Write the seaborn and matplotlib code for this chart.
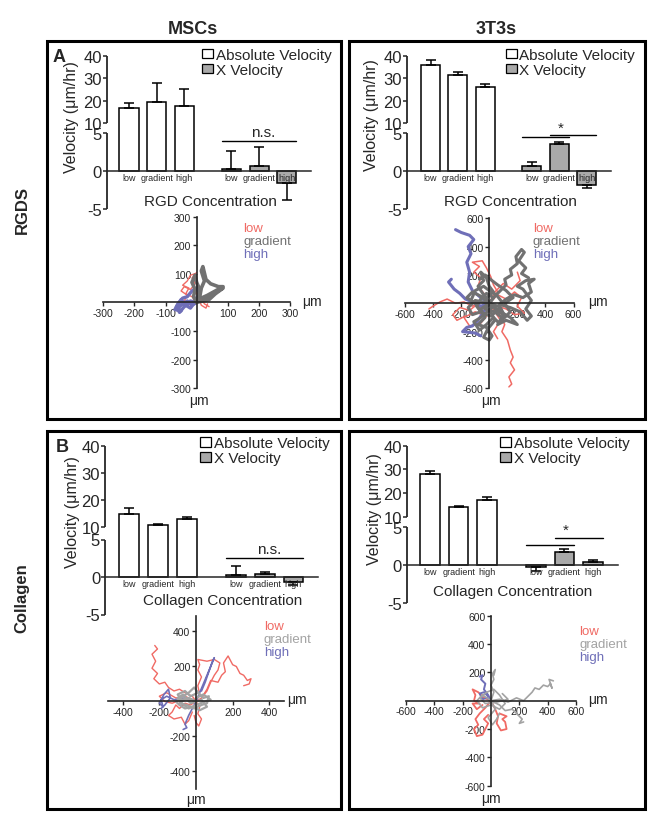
import numpy as np
import pandas as pd
import seaborn as sns
import matplotlib.pyplot as plt
from matplotlib.patches import Rectangle, Patch

sns.set_style("ticks")
plt.rcParams['font.family'] = ['Liberation Sans', 'DejaVu Sans']

# ---------------- data ----------------
conditions = ["low", "gradient", "high"]

msc_rgd_abs = [17.0, 19.5, 17.5]
msc_rgd_abs_err = [2.0, 8.3, 7.8]
msc_rgd_x = [0.3, 0.7, -1.5]
msc_rgd_x_err = [2.4, 2.5, 2.3]

t3_rgd_abs = [35.9, 31.7, 26.0]
t3_rgd_abs_err = [2.3, 1.1, 1.3]
t3_rgd_x = [0.75, 3.6, -1.8]
t3_rgd_x_err = [0.45, 0.25, 0.4]

msc_col_abs = [14.8, 10.6, 13.1]
msc_col_abs_err = [2.2, 0.6, 0.7]
msc_col_x = [0.25, 0.4, -0.6]
msc_col_x_err = [1.2, 0.3, 0.4]

t3_col_abs = [28.1, 14.1, 17.2]
t3_col_abs_err = [1.4, 0.6, 1.1]
t3_col_x = [-0.2, 1.7, 0.45]
t3_col_x_err = [0.55, 0.4, 0.25]

# cell tracks (um), one list of (x, y) points per cell
msc_rgd_low = [
    [(0, 0), (-15, 20), (-35, 30), (-25, 50), (-45, 60), (-30, 75), (-20, 95), (-5, 100), (-10, 80), (5, 60), (-10, 40), (10, 20), (25, -5), (40, -15)],
    [(0, 0), (-20, -10), (-40, 5), (-30, 25), (-50, 40), (-40, 55), (-20, 45), (-5, 65), (-15, 85), (0, 105)],
    [(0, 0), (15, 10), (10, 35), (-5, 45), (15, -10), (30, -20), (35, -5)],
]
msc_rgd_gradient = [
    [(0, 0), (10, 20), (15, 50), (25, 75), (15, 110), (20, 125), (30, 80), (45, 65), (70, 55), (85, 55), (60, 40), (35, 25), (15, 15)],
    [(0, 0), (-10, 20), (-5, 45), (-15, 70), (-5, 95), (0, 70), (10, 45), (5, 20)],
    [(0, 0), (20, 5), (40, 10), (60, 30), (85, 50), (50, 30), (25, 10)],
]
msc_rgd_high = [
    [(0, 0), (-15, -10), (-30, 5), (-45, -5), (-60, -20), (-50, -30), (-70, -25), (-60, -5), (-45, 15), (-30, 20), (-15, 40), (0, 50), (10, 30), (-5, 10)],
    [(0, 0), (-20, 5), (-40, -15), (-55, -35), (-65, -15), (-50, 10), (-35, -10), (-20, -20), (-10, -5)],
]

t3_rgd_low = [
    [(0, 0), (50, -40), (80, -90), (110, -150), (90, -200), (130, -260), (150, -330), (170, -380), (150, -420), (180, -470), (140, -520), (160, -570), (140, -590)],
    [(0, 0), (-60, 10), (-120, -20), (-180, 10), (-240, 0), (-300, 30), (-350, 10), (-400, -20), (-430, -40)],
    [(0, 0), (-30, 60), (-80, 120), (-60, 180), (-110, 220), (-70, 260), (-120, 290), (-50, 300), (-20, 250), (10, 190), (30, 130), (60, 80), (20, 30)],
    [(0, 0), (60, 60), (120, 30), (180, 80), (230, 40), (200, -20), (250, -70), (180, -80), (120, -40), (60, -20)],
    [(0, 0), (-50, -80), (-100, -60), (-180, -100), (-140, -160), (-60, -140), (-20, -90)],
    [(0, 0), (80, -120), (30, -200), (60, -250)],
    [(0, 0), (-40, -40), (-90, -10), (-140, -50), (-210, -30), (-260, -80), (-230, -120), (-170, -90)],
    [(0, 0), (40, 80), (100, 140), (160, 100), (220, 160), (200, 220)],
]
t3_rgd_gradient = [
    [(0, 0), (40, 50), (80, 90), (120, 130), (110, 170), (160, 200), (150, 240), (200, 280), (190, 330), (230, 380), (250, 360), (210, 300), (260, 250), (230, 210), (280, 180)],
    [(0, 0), (60, -20), (120, 30), (180, 60), (240, 40), (300, 80), (280, 140), (320, 170), (260, 160), (200, 120), (240, 100), (300, 20), (260, -40), (300, -90), (270, -120), (220, -60), (150, -30), (80, -10)],
    [(0, 0), (-40, 60), (-80, 120), (-40, 160), (-60, 220), (-20, 180), (0, 120), (30, 80), (-20, 40)],
    [(0, 0), (-60, -40), (-30, -100), (-80, -150), (-20, -170), (20, -230), (0, -260), (-40, -240), (-10, -180), (40, -120), (10, -60)],
    [(0, 0), (-100, 20), (-150, -30), (-120, -80), (-60, -60), (-100, 0), (-160, 40), (-120, 80), (-60, 50), (-20, 20)],
    [(0, 0), (80, -60), (150, -100), (200, -150), (120, -120), (60, -150), (100, -80), (40, -40)],
    [(0, 0), (30, 40), (-20, 70), (-60, 30), (-90, -20), (-50, -70), (10, -90), (60, -50), (90, 10), (50, 60), (0, 90), (-40, 120), (-100, 90), (-130, 20)],
    [(0, 0), (-30, -40), (40, -60), (100, -110), (150, -60), (110, 0), (170, 40), (120, 90), (60, 130), (20, 160), (-30, 200), (-70, 170)],
    [(0, 0), (20, -30), (-60, -100), (-110, -130), (-70, -190), (-20, -150), (30, -100), (70, -140), (110, -90), (80, -30)],
]
t3_rgd_high = [
    [(0, 0), (-60, 40), (-120, 90), (-150, 150), (-140, 220), (-160, 290), (-130, 350), (-150, 400), (-110, 450), (-140, 480), (-200, 500), (-240, 520)],
    [(0, 0), (-60, -20), (-120, 10), (-170, 30), (-210, 70), (-250, 100), (-290, 150), (-270, 170)],
    [(0, 0), (-40, -60), (-80, -120), (-120, -160), (-160, -170), (-190, -200), (-100, -210), (-60, -230)],
]

msc_col_low = [
    [(0, 0), (-20, 30), (-60, 50), (-90, 70), (-120, 60), (-150, 80), (-170, 110), (-200, 100), (-230, 130), (-210, 160), (-240, 190), (-220, 230), (-240, 270), (-210, 300), (-225, 320)],
    [(0, 0), (30, 20), (60, 70), (80, 120), (120, 110), (140, 150), (160, 170), (150, 220), (175, 260), (200, 210), (220, 200), (240, 160), (260, 150), (280, 120), (300, 130), (290, 100), (260, 90)],
    [(0, 0), (20, 40), (10, 90), (30, 140), (10, 180), (20, 210), (10, 240), (60, 230), (100, 240), (130, 220), (120, 180), (100, 150), (80, 110), (60, 60), (30, 20)],
    [(0, 0), (-30, -20), (-60, -10), (-90, -40), (-110, -20), (-130, -60), (-150, -80), (-120, -100), (-80, -90), (-60, -130), (-40, -110), (-20, -60)],
    [(0, 0), (20, -30), (10, -70), (30, -100), (15, -140), (0, -120), (-10, -80)],
    [(0, 0), (-60, 30), (-110, 20), (-160, 50), (-200, 30), (-170, 0), (-130, -10), (-80, 10)],
]
msc_col_gradient = [
    [(0, 0), (-40, 20), (-80, 10), (-100, 40), (-60, 60), (-30, 30), (10, 50), (40, 20), (70, 30), (60, -10), (30, -20), (-10, -40), (-50, -20), (-90, -10), (-60, 10), (-20, 10)],
    [(0, 0), (30, 10), (60, -30), (20, -50), (-20, -30), (-60, -40), (-90, -20), (-110, 0), (-70, 30), (-40, 50), (-10, 80), (20, 40)],
    [(0, 0), (-30, -10), (-70, 40), (-100, 20), (-80, -10), (-40, -40), (0, -20), (50, 0), (80, 10), (40, 40), (0, 20)],
]
msc_col_high = [
    [(0, 0), (20, 50), (40, 100), (60, 150), (80, 200), (100, 250), (90, 230), (70, 170), (50, 110), (30, 60)],
    [(0, 0), (-60, 20), (-120, 10), (-160, 30), (-190, 10), (-180, -30), (-200, -10), (-175, 40), (-150, 70), (-140, 20), (-170, -20), (-190, -40)],
    [(0, 0), (-20, -40), (-40, -80), (-60, -130), (-50, -150), (-70, -160)],
]

t3_col_low = [
    [(0, 0), (-40, -50), (-80, -90), (-110, -130), (-90, -170), (-120, -200), (-100, -250), (-60, -240), (-40, -200), (-20, -160), (-50, -130), (-20, -100)],
    [(0, 0), (30, -60), (50, -110), (40, -160), (70, -210), (110, -200), (100, -150), (80, -130), (110, -110), (60, -90)],
    [(0, 0), (-50, 20), (-90, 60), (-130, 80), (-110, 40), (-120, 0), (-80, -20), (-130, -20), (-100, -60), (-60, -30)],
]
t3_col_gradient = [
    [(0, 0), (60, 10), (120, -10), (180, 20), (230, 0), (260, 30), (290, 60), (310, 90), (340, 80), (370, 110), (400, 100), (420, 120), (430, 90), (410, 150), (440, 140)],
    [(0, 0), (60, -30), (100, -70), (150, -60), (190, -100), (220, -130), (200, -160), (230, -150)],
    [(0, 0), (20, 60), (0, 110), (20, 150), (10, 190), (30, 220), (20, 180)],
    [(0, 0), (-60, 40), (-100, 0), (-60, -50), (0, -30), (60, -60), (100, -20), (60, 40), (20, 80), (-30, 60), (-80, 20), (-40, -20), (40, -10), (120, 10), (80, 50)],
    [(0, 0), (30, -60), (-20, -120), (10, -170), (40, -130), (60, -90)],
]
t3_col_high = [
    [(0, 0), (-20, 40), (-50, 80), (-40, 120), (-70, 150), (-60, 180), (-80, 170)],
    [(0, 0), (-30, 20), (-60, 10), (-80, 50), (-50, 60), (-20, 30)],
]

# ---------------- layout helpers (pixel based) ----------------
W, H = 654, 820
fig = plt.figure(figsize=(W / 100, H / 100), dpi=100)
positions = [0, 1, 2, 3.7, 4.7, 5.7]
bar_w = 0.69
RED, BLUE = '#f06a64', '#6f6fb8'
GRAY_TOP, GRAY_BOT = '#717171', '#a3a3a3'
BAR_GRAY = '#a9a9a9'


def add_ax(x0, y0, x1, y1):
    return fig.add_axes([x0 / W, 1 - y1 / H, (x1 - x0) / W, (y1 - y0) / H])


def ftext(x, y, s, **kw):
    fig.text(x / W, 1 - y / H, s, **kw)


def broken_scale(y40, y10, y5, y0):
    k = (y0 - y5) / 5.0
    gap = y5 - y10
    ku = (y10 - y40) / 30.0

    def fwd(v):
        v = np.asarray(v, dtype=float)
        return np.where(v <= 5, v * k,
                        np.where(v < 10, 5 * k + (v - 5) / 5 * gap, 5 * k + gap + (v - 10) * ku))

    def inv(t):
        t = np.asarray(t, dtype=float)
        return np.where(t <= 5 * k, t / k,
                        np.where(t < 5 * k + gap, 5 + (t - 5 * k) / gap * 5, 10 + (t - 5 * k - gap) / ku))
    return fwd, inv


def bar_panel(geom, abs_v, abs_e, x_v, x_e, xlabel, xlab_xy, ylab_xy, leg_xy, sig, sig_text, sig_text_xy):
    spine, end, y40, y10, y5, y0, ym5, p0, step = geom
    ax = add_ax(spine, y40, end, ym5)
    df = pd.DataFrame({"pos": positions, "v": abs_v + x_v, "kind": ["abs"] * 3 + ["x"] * 3})
    sns.barplot(data=df, x="pos", y="v", hue="kind", palette={"abs": "white", "x": BAR_GRAY},
                native_scale=True, width=bar_w, dodge=False, edgecolor="black", linewidth=1.1,
                legend=False, ax=ax)
    vals = abs_v + x_v
    errs = abs_e + x_e
    lower = [e if v < 0 else 0 for v, e in zip(vals, errs)]
    upper = [0 if v < 0 else e for v, e in zip(vals, errs)]
    ax.errorbar(positions, vals, yerr=[lower, upper], fmt='none', ecolor='black',
                elinewidth=1.1, capsize=3.5, capthick=1.1)
    fwd, inv = broken_scale(y40, y10, y5, y0)
    ax.set_yscale('function', functions=(fwd, inv))
    xl = ((spine - p0) / step, (end - p0) / step)
    ax.set_xlim(*xl)
    ax.set_ylim(-5, 40)
    ax.set_axisbelow(False)
    ax.set_yticks([-5, 0, 5, 10, 20, 30, 40], labels=["-5", "0", "5", "10", "20", "30", "40"])
    ax.set_xticks(positions, labels=conditions * 2)
    ax.tick_params(axis='x', length=0, labelsize=6.5, pad=1.5)
    ax.tick_params(axis='y', direction='out', length=3, width=1.1, labelsize=12, pad=0.5)
    for s in ['top', 'right', 'left']:
        ax.spines[s].set_visible(False)
    ax.spines['bottom'].set_position(('data', 0))
    ax.spines['bottom'].set_linewidth(1.1)
    ax.vlines([xl[0], xl[0]], [-5, 10], [5, 40], colors='black', lw=1.1, clip_on=False)
    ax.set_xlabel("")
    ax.set_ylabel("")
    ftext(*xlab_xy, xlabel, ha='center', va='center', fontsize=11)
    ftext(*ylab_xy, "Velocity (\u03bcm/hr)", ha='center', va='center', fontsize=11.5, rotation=90)
    for a, b, y in sig:
        ax.plot([positions[a] - bar_w / 2, positions[b] + bar_w / 2], [y, y], color='black', lw=1)
    ax.text(sig_text_xy[0], sig_text_xy[1], sig_text, ha='center', va='bottom', fontsize=11)
    handles = [Patch(facecolor='white', edgecolor='black', lw=0.9, label='Absolute Velocity'),
               Patch(facecolor=BAR_GRAY, edgecolor='black', lw=0.9, label='X Velocity')]
    fig.legend(handles=handles, loc='upper left', bbox_to_anchor=(leg_xy[0] / W, 1 - leg_xy[1] / H),
               frameon=False, fontsize=11, handlelength=0.75, handleheight=0.6, handletextpad=0.15,
               labelspacing=0.05, borderpad=0, borderaxespad=0)
    return ax


def traj_panel(box, xlim, ylim, ticks, tracks, gray, lws, leg_xy, ux_xy, uy_xy):
    ax = add_ax(*box)
    cols = {"low": RED, "gradient": gray, "high": BLUE}
    for cond in ["low", "high", "gradient"]:
        rows = []
        for i, tr in enumerate(tracks[cond]):
            for (x, y) in tr:
                rows.append((i, x, y))
        df = pd.DataFrame(rows, columns=["track", "x", "y"])
        sns.lineplot(data=df, x="x", y="y", units="track", estimator=None, sort=False,
                     color=cols[cond], linewidth=lws[cond], ax=ax)
    ax.set_xlim(*xlim)
    ax.set_ylim(*ylim)
    for s in ['top', 'right']:
        ax.spines[s].set_visible(False)
    for s in ['left', 'bottom']:
        ax.spines[s].set_position(('data', 0))
        ax.spines[s].set_linewidth(1.2)
    tk = [-t for t in ticks[::-1]] + list(ticks)
    ax.set_xticks(tk, labels=[str(t) for t in tk])
    ax.set_yticks(tk, labels=[str(t) for t in tk])
    ax.tick_params(labelsize=7.5, length=3, width=1, pad=1)
    ax.set_xlabel("")
    ax.set_ylabel("")
    ax.patch.set_alpha(0)
    for j, cond in enumerate(conditions):
        ftext(leg_xy[0], leg_xy[1] + 13 * j, cond, color=cols[cond], fontsize=9.5, ha='left', va='center')
    ftext(*ux_xy, "\u03bcm", fontsize=10, ha='center', va='center')
    ftext(*uy_xy, "\u03bcm", fontsize=10, ha='center', va='center')
    return ax


# ---------------- figure ----------------
for x0, y0, x1, y1 in [(47, 42, 341, 420), (349, 42, 645, 420), (47, 432, 341, 810), (349, 432, 645, 810)]:
    fig.patches.append(Rectangle((x0 / W, 1 - y1 / H), (x1 - x0) / W, (y1 - y0) / H,
                                 transform=fig.transFigure, fill=False, lw=2.2, ec='black'))

ftext(193, 30, "MSCs", fontsize=13, fontweight='bold', ha='center', va='center')
ftext(496, 30, "3T3s", fontsize=13, fontweight='bold', ha='center', va='center')
ftext(22, 210, "RGDS", fontsize=12, fontweight='bold', ha='center', va='center', rotation=90)
ftext(22, 598, "Collagen", fontsize=12, fontweight='bold', ha='center', va='center', rotation=90)
ftext(59, 58, "A", fontsize=13, fontweight='bold', ha='center', va='center')
ftext(62, 448, "B", fontsize=13, fontweight='bold', ha='center', va='center')

bar_panel((106.7, 310.7, 57, 124.3, 134.3, 172.3, 210.3, 129, 27.7),
          msc_rgd_abs, msc_rgd_abs_err, msc_rgd_x, msc_rgd_x_err,
          "RGD Concentration", (210, 202.5), (71.5, 117.5), (202, 49),
          [(3, 5, 4.0)], "n.s.", (4.85, 4.25))
bar_panel((406.7, 610.7, 57, 124.3, 134.3, 172.3, 210.3, 430.5, 27.4),
          t3_rgd_abs, t3_rgd_abs_err, t3_rgd_x, t3_rgd_x_err,
          "RGD Concentration", (510, 202.5), (371.5, 115), (505.7, 49),
          [(3, 4, 4.47), (4, 5, 4.78)], "*", (4.75, 4.85))
bar_panel((105, 318, 447, 528, 540.5, 578, 615.5, 129.3, 28.8),
          msc_col_abs, msc_col_abs_err, msc_col_x, msc_col_x_err,
          "Collagen Concentration", (223, 601.5), (72.5, 512), (200, 437.5),
          [(3, 5, 2.5)], "n.s.", (4.85, 2.75))
bar_panel((406.7, 618, 446.7, 518, 528, 566, 604, 430, 28.6),
          t3_col_abs, t3_col_abs_err, t3_col_x, t3_col_x_err,
          "Collagen Concentration", (513, 592.5), (374, 509), (500, 437.5),
          [(3, 4, 2.67), (4, 5, 3.6)], "*", (4.75, 3.65))

traj_panel((103.3, 217.5, 290, 389.3), (-300, 300), (-300, 300), [100, 200, 300],
           {"low": msc_rgd_low, "gradient": msc_rgd_gradient, "high": msc_rgd_high}, GRAY_TOP,
           {"low": 1.0, "gradient": 2.6, "high": 2.4}, (243.3, 229), (312, 302), (198.5, 401.5))
traj_panel((405, 219.3, 573.5, 389.3), (-600, 600), (-600, 600), [200, 400, 600],
           {"low": t3_rgd_low, "gradient": t3_rgd_gradient, "high": t3_rgd_high}, GRAY_TOP,
           {"low": 1.1, "gradient": 2.2, "high": 2.2}, (532.7, 229), (597.5, 302), (490.5, 401.5))
traj_panel((108, 616.7, 284, 790), (-480, 480), (-500, 490), [200, 400],
           {"low": msc_col_low, "gradient": msc_col_gradient, "high": msc_col_high}, GRAY_BOT,
           {"low": 1.0, "gradient": 1.6, "high": 1.2}, (264, 627.3), (296.5, 700), (196, 800))
traj_panel((406, 616.7, 576, 786.7), (-600, 600), (-600, 600), [200, 400, 600],
           {"low": t3_col_low, "gradient": t3_col_gradient, "high": t3_col_high}, GRAY_BOT,
           {"low": 1.3, "gradient": 1.2, "high": 1.4}, (579.3, 631.7), (597.5, 700), (490.5, 799))

fig.savefig("out.png", dpi=100)
